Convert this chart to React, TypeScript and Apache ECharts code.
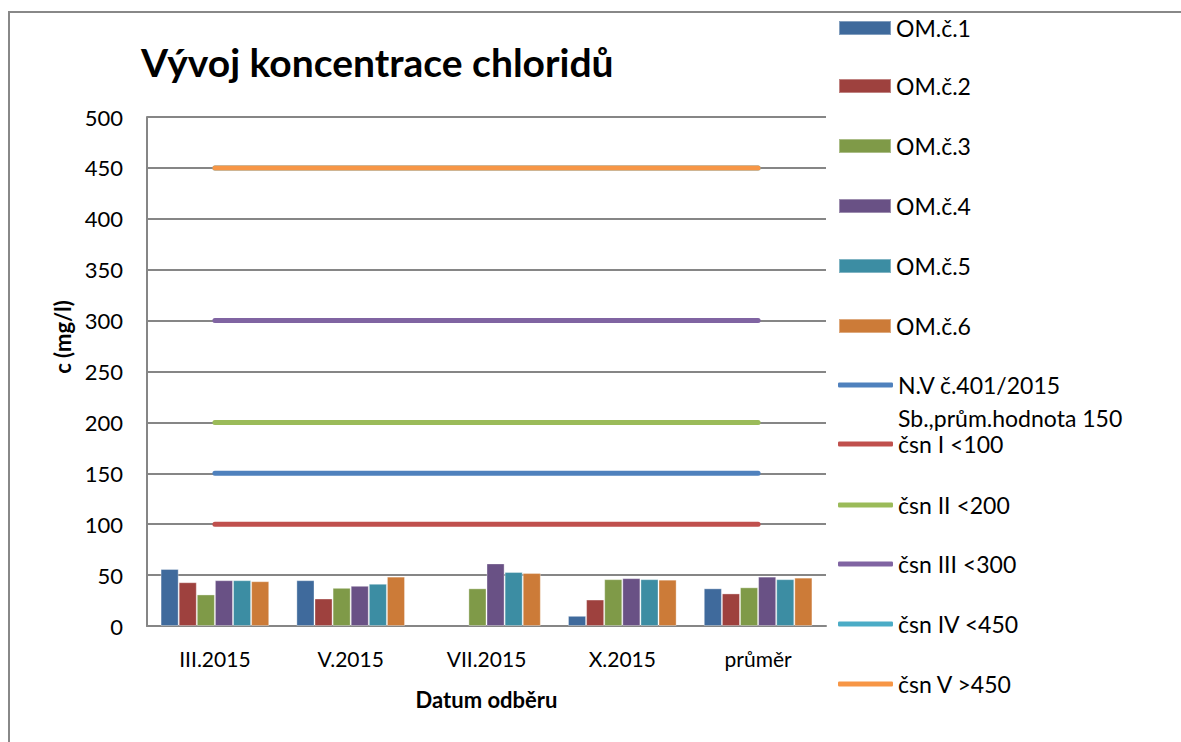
import React, { useEffect, useRef } from "react";
import * as echarts from "echarts";

const categories = ["III.2015", "V.2015", "VII.2015", "X.2015", "průměr"];
const barNames = ["OM.č.1", "OM.č.2", "OM.č.3", "OM.č.4", "OM.č.5", "OM.č.6"];
const om1 = [56, 45, null, 10, 37];
const om2 = [43, 27, null, 26, 32];
const om3 = [31, 37.5, 37, 46, 38];
const om4 = [45, 39.5, 61.5, 47, 48.5];
const om5 = [45, 41.5, 53, 46, 46];
const om6 = [44, 48.5, 52, 45.5, 47.5];
const barValues = [om1, om2, om3, om4, om5, om6];
const barColors = ["#3F6A9C", "#9E413E", "#7F9A48", "#695185", "#3C8DA3", "#CC7B38"];

const lineNames = [
  "N.V č.401/2015 Sb.,prům.hodnota 150",
  "čsn I <100",
  "čsn II <200",
  "čsn III <300",
  "čsn IV <450",
  "čsn V >450",
];
const lineLevels = [150, 100, 200, 300, 450, 450];
const lineColors = ["#4F81BD", "#C0504D", "#9BBB59", "#8064A2", "#4BACC6", "#F79646"];

const FONT = "Lato";

export default function App() {
  const ref = useRef<HTMLDivElement>(null);
  useEffect(() => {
    const chart = echarts.init(ref.current!, undefined, { renderer: "svg" });
    const series: any[] = [];
    barNames.forEach((n, i) => {
      series.push({
        name: n,
        type: "bar",
        data: barValues[i],
        barGap: "0%",
        barCategoryGap: "20%",
        itemStyle: { color: barColors[i], borderColor: "rgba(255,255,255,0.35)", borderWidth: 1 },
      });
    });
    lineNames.forEach((n, i) => {
      series.push({
        name: n,
        type: "line",
        data: categories.map(() => lineLevels[i]),
        showSymbol: false,
        symbol: "none",
        lineStyle: { color: lineColors[i], width: 5, cap: "round" },
        itemStyle: { color: lineColors[i] },
        z: 3,
      });
    });

    const allNames = [...barNames, ...lineNames];
    const centers = [28, 86, 146, 206, 266, 326, 385, 444, 505, 564, 624, 684];
    const legends = allNames.map((n, i) => {
      const isBar = i < barNames.length;
      const multi = i === barNames.length;
      const lh = multi ? 33 : 28;
      const h = multi ? 99 : 28;
      return {
        data: [{ name: n, icon: isBar ? "rect" : "roundRect" }],
        left: 838,
        top: centers[i] - h / 2,
        orient: "vertical",
        padding: 0,
        itemWidth: isBar ? 52 : 55,
        itemHeight: isBar ? 14 : 5,
        itemGap: 0,
        selectedMode: false,
        formatter: multi ? () => "\nN.V č.401/2015\nSb.,prům.hodnota 150" : undefined,
        textStyle: {
          fontFamily: FONT,
          fontSize: 23,
          color: "#000",
          lineHeight: lh,
        },
      };
    });

    chart.setOption({
      animation: false,
      backgroundColor: "#fff",
      title: {
        text: "Vývoj koncentrace chloridů",
        left: 141,
        top: 42,
        padding: 0,
        textStyle: { fontFamily: FONT, fontSize: 39, fontWeight: "bold", color: "#000" },
      },
      legend: legends,
      grid: { left: 147, top: 117, right: 355, bottom: 116, containLabel: false },
      xAxis: {
        type: "category",
        data: categories,
        name: "Datum odběru",
        nameLocation: "middle",
        nameGap: 62,
        nameTextStyle: { fontFamily: FONT, fontSize: 22, fontWeight: "bold", color: "#000" },
        axisLine: { lineStyle: { color: "#868686", width: 2 } },
        axisTick: { show: false },
        axisLabel: { fontFamily: FONT, fontSize: 21, color: "#000", margin: 22 },
      },
      yAxis: {
        type: "value",
        min: 0,
        max: 500,
        interval: 50,
        axisLine: { show: true, lineStyle: { color: "#868686", width: 2 } },
        axisTick: { show: false },
        axisLabel: { fontFamily: FONT, fontSize: 22, color: "#000", margin: 24 },
        splitLine: { lineStyle: { color: "#868686", width: 2 } },
      },
      graphic: [
        {
          type: "rect",
          shape: { x: 9, y: 12, width: 1300, height: 900 },
          style: { fill: "none", stroke: "#888", lineWidth: 2 },
          silent: true,
        },
        {
          type: "text",
          x: 62,
          y: 337,
          rotation: Math.PI / 2,
          style: {
            text: "c (mg/l)",
            fontFamily: FONT,
            fontSize: 22,
            fontWeight: "bold",
            fill: "#000",
            align: "center",
            verticalAlign: "middle",
          },
        },
      ],
      series,
    });
    return () => chart.dispose();
  }, []);
  return (
    <div
      ref={ref}
      style={{ position: "fixed", left: 0, top: 0, width: 1181, height: 742 }}
    />
  );
}
